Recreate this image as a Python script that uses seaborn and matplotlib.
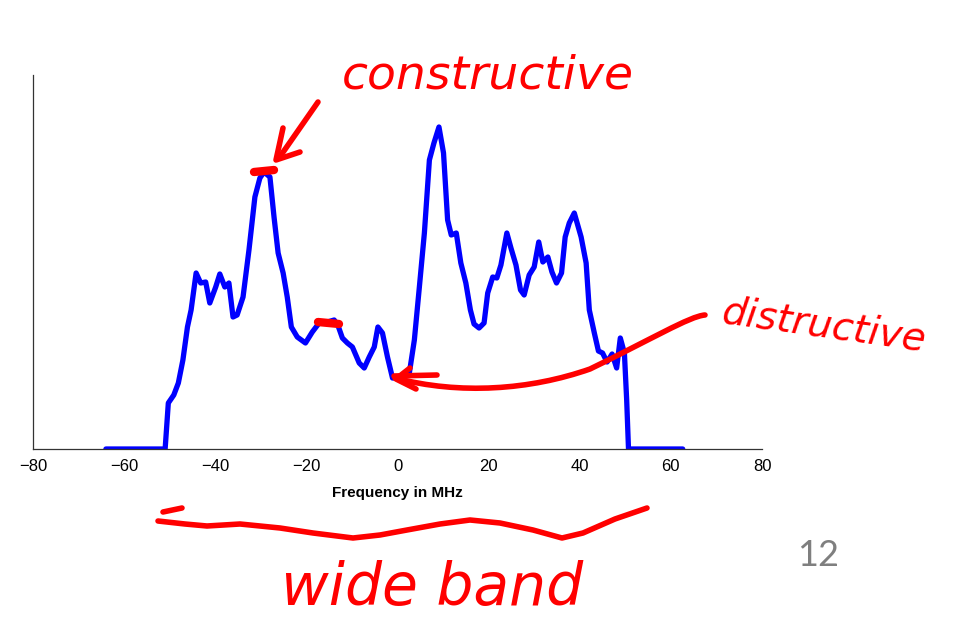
import numpy as np
import pandas as pd
import matplotlib
matplotlib.use("Agg")
import matplotlib.pyplot as plt
from matplotlib.path import Path
from matplotlib.patches import PathPatch
import seaborn as sns

# ---- data ----
freq_mhz = [-64, -51, -50.3, -49.1, -48.1, -47.1, -46.1, -45.3, -44.2, -43.2, -42.1, -41.2,
            -39.9, -39.0, -37.9, -37.0, -36.1, -35.2, -33.9, -32.6, -31.3, -30.2, -29.3,
            -28.0, -27.1, -26.2, -25.1, -24.2, -23.3, -22.0, -20.2, -18.7, -17.2, -15.4,
            -13.9, -13.1, -12.1, -11.0, -9.9, -8.4, -7.3, -6.2, -5.1, -4.3, -3.3, -2.2,
            -1.1, 0.7, 2.6, 3.7, 4.8, 5.9, 7.0, 8.0, 9.1, 10.1, 11.0, 11.8, 12.9, 13.9,
            15.0, 16.0, 16.8, 17.9, 19.0, 19.8, 20.9, 21.8, 22.7, 24.0, 24.9, 26.0, 27.0,
            27.8, 28.9, 30.0, 31.0, 31.9, 33.0, 33.9, 34.9, 36.0, 36.8, 37.7, 38.8, 40.3,
            41.4, 42.1, 43.2, 44.1, 45.0, 46.0, 47.1, 48.1, 48.9, 49.8, 50.3, 50.7, 62.6]
level = [0, 0, 46, 54, 66, 89, 122, 139, 176, 166, 167, 146,
         162, 175, 162, 166, 132, 134, 152, 199, 252, 271, 277,
         272, 232, 196, 176, 152, 122, 112, 106, 117, 126, 127,
         129, 124, 111, 106, 102, 86, 81, 92, 102, 122, 116, 92,
         71, 71, 76, 109, 162, 216, 289, 306, 322, 296, 229, 214, 216, 186,
         166, 139, 125, 121, 126, 156, 172, 171, 184, 216, 201, 184, 159,
         154, 174, 182, 207, 187, 192, 177, 166, 176, 212, 226, 236, 212,
         186, 139, 116, 98, 96, 87, 95, 81, 111, 96, 49, 0, 0]
x_ticks = [-80, -60, -40, -20, 0, 20, 40, 60, 80]
x_label = "Frequency in MHz"

df = pd.DataFrame({"freq": freq_mhz, "level": level})

sns.set_style("white")
plt.rcParams["font.family"] = ["Liberation Sans", "DejaVu Sans"]

W, H = 954, 623
fig = plt.figure(figsize=(W / 100, H / 100), dpi=100)
ax = fig.add_axes([33 / W, (H - 449) / H, (762 - 33) / W, (449 - 75) / H])

sns.lineplot(data=df, x="freq", y="level", color="#0000ff", linewidth=3.8,
             ax=ax, sort=False, estimator=None)

ax.set_xlim(-80, 80)
ax.set_ylim(0, 374)
ax.set_xticks(x_ticks)
ax.set_xticklabels([f"\u2212{abs(t)}" if t < 0 else str(t) for t in x_ticks], fontsize=12)
ax.set_yticks([])
ax.set_xlabel(x_label, fontsize=11, fontweight="bold", labelpad=9, color="black")
ax.set_ylabel("")
ax.tick_params(axis="x", direction="in", length=5, width=0.9, colors="#333333",
               labelcolor="black", pad=7)
for s in ["top", "right"]:
    ax.spines[s].set_visible(False)
for s in ["left", "bottom"]:
    ax.spines[s].set_color("#333333")
    ax.spines[s].set_linewidth(0.9)

# ---- handwritten red annotations (figure pixel coordinates, y from top) ----
RED = "#ff0000"

def fp(x, y):
    return (x, H - y)

def stroke(points, lw=4.0, codes=None):
    verts = [fp(*p) for p in points]
    if codes is None:
        codes = [Path.MOVETO] + [Path.LINETO] * (len(verts) - 1)
    patch = PathPatch(Path(verts, codes), facecolor="none", edgecolor=RED, lw=lw,
                      capstyle="round", joinstyle="round", transform=None, zorder=10)
    fig.patches.append(patch)

hand = dict(color=RED, style="italic", family="DejaVu Sans", transform=None)

fig.text(*fp(488, 76), "constructive", fontsize=34, ha="center", va="center", **hand)
fig.text(*fp(824, 326), "distructive", fontsize=28, ha="center", va="center",
         rotation=-8, **hand)
fig.text(*fp(432, 588), "wide band", fontsize=42, ha="center", va="center", **hand)
fig.text(*fp(818, 556), "12", fontsize=26, ha="center", va="center", color="#7f7f7f",
         family=["Lato", "DejaVu Sans"], transform=None)

# arrow to constructive peak
stroke([(318, 102), (279, 158)])
stroke([(283, 128), (276, 160), (300, 152)])
# marks on the curve
stroke([(254, 172), (274, 170)], lw=6)
stroke([(318, 322), (339, 324)], lw=6)
# curved arrow to destructive dip
stroke([(705, 315), (690, 316), (650, 340), (590, 369),
        (530, 390), (460, 395), (395, 378)],
       codes=[Path.MOVETO, Path.CURVE4, Path.CURVE4, Path.CURVE4,
              Path.CURVE4, Path.CURVE4, Path.CURVE4])
stroke([(394, 376), (437, 375)])
stroke([(410, 368), (396, 379), (416, 389)])
# brace under the axis
stroke([(163, 512), (182, 508)])
stroke([(158, 521), (185, 524), (207, 526), (240, 524), (280, 528), (313, 533),
        (353, 538), (380, 535), (407, 530), (440, 524), (470, 520), (500, 523),
        (533, 530), (562, 538), (583, 533), (615, 519), (647, 508)])

fig.savefig("out.png", dpi=100)
